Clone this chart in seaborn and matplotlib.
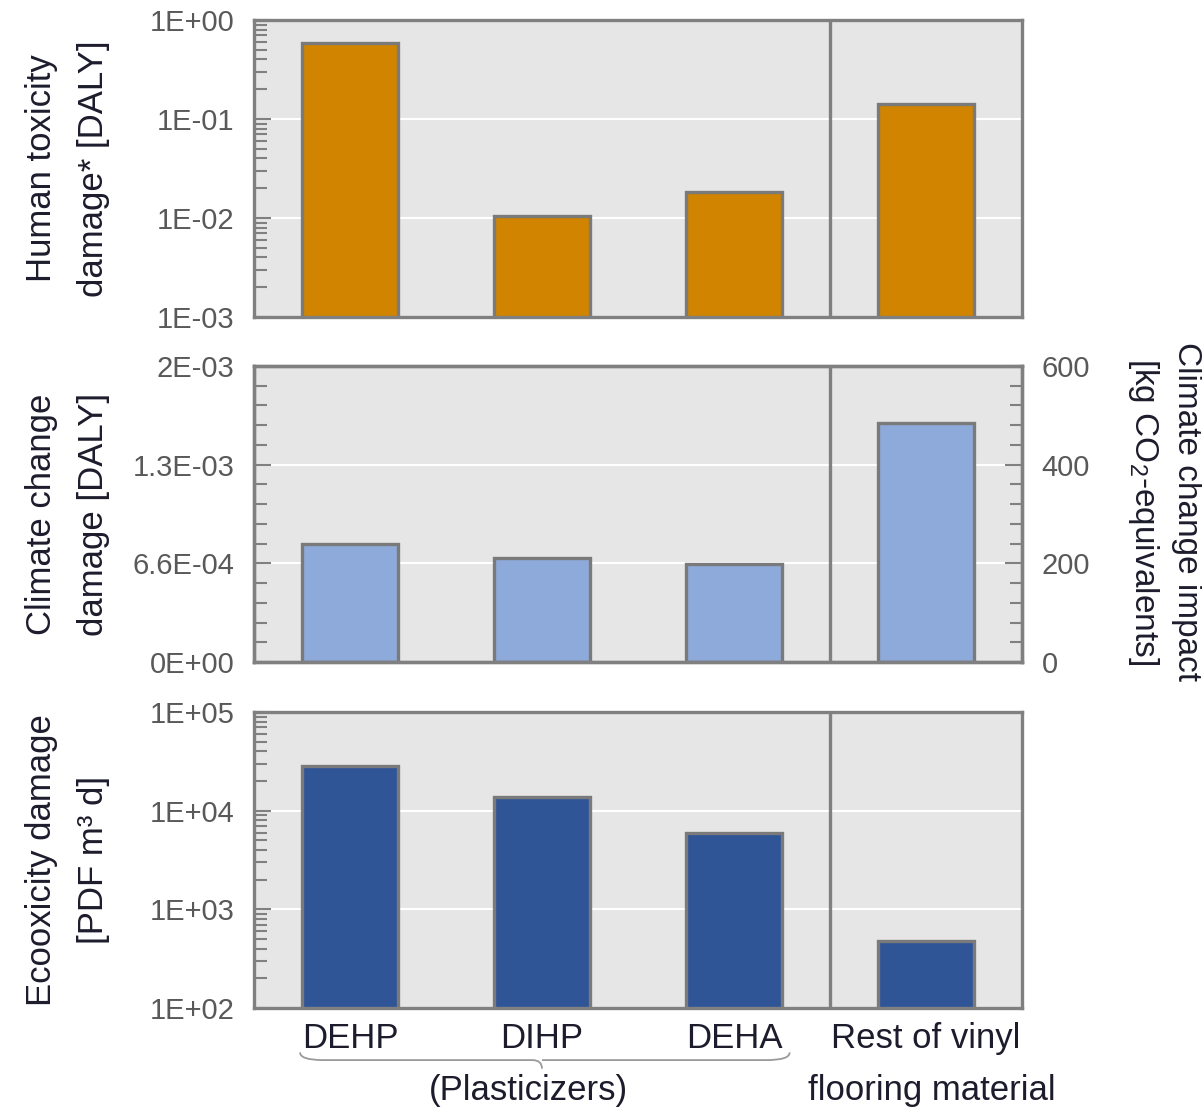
import numpy as np
import pandas as pd
import seaborn as sns
import matplotlib.pyplot as plt
from matplotlib.ticker import LogLocator, FixedLocator, MultipleLocator, FuncFormatter, NullFormatter
from matplotlib.path import Path
from matplotlib.patches import PathPatch
from matplotlib.transforms import blended_transform_factory

# values
categories = ["DEHP", "DIHP", "DEHA", "Rest of vinyl"]
human_tox = [0.59, 0.0105, 0.0183, 0.142]          # DALY
climate_kg = [239, 211, 199, 484]                   # kg CO2-eq
ecotox = [28400, 13800, 5940, 478]                  # PDF m3 d
daly_per_kg = 3.3e-6
climate_ticks_kg = [0, 200, 400, 600]
climate_left_labels = ["0E+00", "6.6E-04", "1.3E-03", "2E-03"]

sns.set_style("white")
plt.rcParams["font.family"] = ["Liberation Sans", "DejaVu Sans"]
plt.rcParams["mathtext.fontset"] = "custom"
plt.rcParams["mathtext.rm"] = "Liberation Sans"

grey = "#808080"
bg = "#e6e6e6"
txt = "#1c1c2c"
tick_col = "#595959"

fig = plt.figure(figsize=(12.02, 11.07), dpi=100)
left, width = 254 / 1202, 768 / 1202
ax1 = fig.add_axes([left, 1 - 317 / 1107, width, 297 / 1107])
ax2 = fig.add_axes([left, 1 - 662 / 1107, width, 296 / 1107])
ax3 = fig.add_axes([left, 1 - 1008 / 1107, width, 296 / 1107])

df = pd.DataFrame({"cat": categories, "human": human_tox,
                   "climate": np.array(climate_kg) * daly_per_kg, "eco": ecotox})

bar_kw = dict(width=0.5, edgecolor="#7a7a7a", linewidth=2.4, saturation=1)
sns.barplot(data=df, x="cat", y="human", ax=ax1, color="#d08400", **bar_kw)
sns.barplot(data=df, x="cat", y="climate", ax=ax2, color="#8eaadb", **bar_kw)
sns.barplot(data=df, x="cat", y="eco", ax=ax3, color="#2f5597", **bar_kw)

fmt = FuncFormatter(lambda v, p: f"{v:.0E}")
ax1.set_yscale("log")
ax3.set_yscale("log")
ax1.set_ylim(1e-3, 1)
ax3.set_ylim(1e2, 1e5)
for ax in (ax1, ax3):
    ax.yaxis.set_major_locator(LogLocator(base=10))
    ax.yaxis.set_minor_locator(LogLocator(base=10, subs=np.arange(2, 10)))
    ax.yaxis.set_major_formatter(fmt)
    ax.yaxis.set_minor_formatter(NullFormatter())

ax2.set_ylim(0, 600 * daly_per_kg)
ax2.yaxis.set_major_locator(FixedLocator(np.array(climate_ticks_kg) * daly_per_kg))
ax2.set_yticklabels(climate_left_labels)
ax2.yaxis.set_minor_locator(MultipleLocator(40 * daly_per_kg))

ax2r = ax2.twinx()
ax2r.set_ylim(0, 600)
ax2r.set_yticks(climate_ticks_kg)
ax2r.yaxis.set_minor_locator(MultipleLocator(40))

for ax in (ax1, ax2, ax3, ax2r):
    ax.set_facecolor(bg)
    ax.set_xlim(-0.5, 3.5)
    for s in ax.spines.values():
        s.set_color(grey)
        s.set_linewidth(2.4)
    ax.tick_params(axis="y", which="both", direction="in", color=grey, width=1.5,
                   labelsize=21, labelcolor=tick_col, pad=14)
    ax.tick_params(axis="y", which="major", length=12)
    ax.tick_params(axis="y", which="minor", length=9)
    ax.set_xlabel("")

for ax in (ax1, ax2, ax3):
    ax.tick_params(axis="y", which="both", left=True, right=False)
    ax.set_axisbelow(True)
    ax.yaxis.grid(True, which="major", color="white", linewidth=1.5)
    ax.xaxis.grid(False)
    ax.axvline(2.5, color=grey, linewidth=2.4, zorder=5)
    ax.tick_params(axis="x", length=0)
ax2r.tick_params(axis="y", which="both", left=False, right=True)

ax1.set_xticklabels([])
ax2.set_xticklabels([])
ax3.set_xticks(range(len(categories)))
ax3.set_xticklabels(categories, fontsize=25, color=txt)
ax3.tick_params(axis="x", pad=10)

lab_kw = dict(fontsize=25, color=txt, linespacing=1.7)
ax1.set_ylabel("Human toxicity\ndamage* [DALY]", **lab_kw)
ax2.set_ylabel("Climate change\ndamage [DALY]", **lab_kw)
ax3.set_ylabel("Ecooxicity damage\n[PDF m³ d]", **lab_kw)
for ax in (ax1, ax2, ax3):
    ax.yaxis.set_label_coords(-0.188, 0.5)
ax2r.set_ylabel("")
fig.text(1164 / 1202, 1 - 512 / 1107, "Climate change impact\n[kg CO$_2$-equivalents]",
         rotation=270, ha="center", va="center", fontsize=24, color=txt, linespacing=1.35)

# brace under the plasticizers
tr = blended_transform_factory(ax3.transData, ax3.transAxes)
x0, x1, xm = -0.26, 2.29, 1.0
yl, yu, yt = -0.176, -0.15, -0.205
verts = [(x0, yu), (x0, yl), (x0 + 0.12, yl), (xm - 0.05, yl), (xm, yl), (xm, yt),
         (xm, yl), (xm + 0.05, yl), (x1 - 0.12, yl), (x1, yl), (x1, yu)]
codes = [Path.MOVETO, Path.CURVE3, Path.CURVE3, Path.LINETO, Path.CURVE3, Path.CURVE3,
         Path.MOVETO, Path.CURVE3, Path.LINETO, Path.CURVE3, Path.CURVE3]
ax3.add_patch(PathPatch(Path(verts, codes), transform=tr, fill=False, edgecolor="#9a9a9a",
                        linewidth=1.3, clip_on=False))
ax3.text(0.93, -0.28, "(Plasticizers)", transform=tr, ha="center", va="center",
         fontsize=25, color=txt)
ax3.text(3.03, -0.28, "flooring material", transform=tr, ha="center", va="center",
         fontsize=25, color=txt)

fig.savefig("out.png", dpi=100)
